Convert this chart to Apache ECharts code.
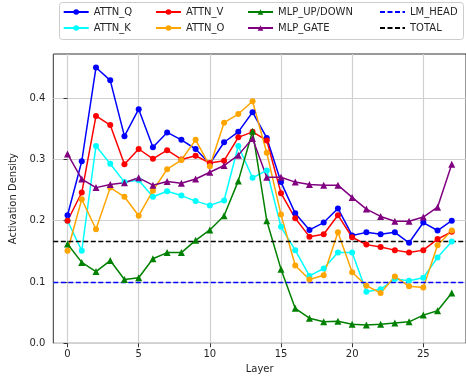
<!DOCTYPE html>
<html>
<head>
<meta charset="utf-8">
<script src="https://cdn.jsdelivr.net/npm/echarts@6/dist/echarts.min.js"></script>
<style>html,body{margin:0;padding:0;background:#fff;}#c{width:466px;height:380px;}</style>
</head>
<body>
<div id="c"></div>
<script>
const layers = [0,1,2,3,4,5,6,7,8,9,10,11,12,13,14,15,16,17,18,19,20,21,22,23,24,25,26,27];
const attnQ = [0.209,0.297,0.450,0.429,0.338,0.382,0.320,0.344,0.332,0.317,0.293,0.328,0.345,0.377,0.335,0.263,0.212,0.185,0.197,0.220,0.176,0.181,0.178,0.181,0.164,0.197,0.184,0.200];
const attnK = [0.200,0.151,0.322,0.293,0.263,0.266,0.239,0.248,0.241,0.232,0.225,0.233,0.322,0.270,0.282,0.190,0.152,0.110,0.122,0.148,0.148,0.084,0.088,0.105,0.102,0.107,0.140,0.166];
const attnV = [0.200,0.246,0.371,0.356,0.292,0.317,0.301,0.315,0.300,0.306,0.294,0.298,0.336,0.345,0.331,0.245,0.204,0.174,0.178,0.209,0.173,0.161,0.157,0.152,0.148,0.152,0.170,0.182];
const attnO = [0.151,0.235,0.186,0.254,0.239,0.208,0.249,0.284,0.299,0.332,0.289,0.360,0.374,0.395,0.311,0.210,0.127,0.104,0.111,0.181,0.116,0.094,0.082,0.109,0.093,0.091,0.160,0.184];
const mlpUpDown = [0.162,0.132,0.117,0.135,0.104,0.107,0.138,0.148,0.148,0.168,0.185,0.208,0.265,0.346,0.200,0.121,0.057,0.041,0.035,0.036,0.031,0.030,0.031,0.033,0.035,0.046,0.053,0.082];
const mlpGate = [0.309,0.268,0.254,0.259,0.262,0.270,0.258,0.264,0.261,0.268,0.279,0.290,0.307,0.334,0.271,0.271,0.263,0.259,0.258,0.258,0.238,0.219,0.207,0.199,0.199,0.206,0.222,0.292];
const lmHead = 0.099;
const total = 0.166;
const xTicks = [0,5,10,15,20,25];
const yTicks = [0,0.1,0.2,0.3,0.4];
const xRange = [-1, 28];

const FONT = 'DejaVu Sans';
const TXT = '#262626';

function pts(vals){ return layers.map((l,i)=>[l, vals[i]]); }
function hline(v){ return [[xRange[0], v],[xRange[1], v]]; }

function lineSeries(name, vals, color, symbol){
  return {
    name, type:'line', data: pts(vals),
    symbol, symbolSize: symbol==='triangle'?7:6, showSymbol:true,
    lineStyle:{color, width:1.5},
    itemStyle:{color},
    emphasis:{disabled:true},
    clip:true
  };
}
function dashSeries(name, v, color){
  return {
    name, type:'line', data: hline(v), symbol:'none',
    lineStyle:{color, width:1.5, type:[5,2.5]},
    itemStyle:{color},
    emphasis:{disabled:true}
  };
}

const legendCommon = {
  orient:'vertical', itemWidth:25, itemHeight:7, itemGap:6, selectedMode:false,
  textStyle:{fontFamily:FONT, fontSize:10, color:TXT, lineHeight:10},
  padding:0
};
const noSym = {opacity:0};

const chart = echarts.init(document.getElementById('c'), null, {renderer:'canvas'});
chart.setOption({
  animation:false,
  backgroundColor:'#fff',
  textStyle:{fontFamily:FONT},
  grid:{left:53.3, top:54, width:417.6, height:289.3, show:true, borderColor:'#333', borderWidth:1, containLabel:false},
  graphic:[{type:'rect', left:59, top:2, shape:{width:404, height:37, r:3}, style:{fill:'rgba(255,255,255,0.8)', stroke:'#cccccc', lineWidth:1}, z:0}],
  legend:[
    Object.assign({left:62.7, top:7, data:['ATTN_Q','ATTN_K']}, legendCommon),
    Object.assign({left:155, top:7, data:['ATTN_V','ATTN_O']}, legendCommon),
    Object.assign({left:247, top:7, data:['MLP_UP/DOWN','MLP_GATE']}, legendCommon),
    Object.assign({left:379, top:7, data:[{name:'LM_HEAD', itemStyle:noSym},{name:'TOTAL', itemStyle:noSym}]}, legendCommon)
  ],
  xAxis:{
    type:'value', min:xRange[0], max:xRange[1],
    name:'Layer', nameLocation:'middle', nameGap:21,
    nameTextStyle:{fontFamily:FONT, fontSize:10, color:TXT},
    axisLine:{show:false},
    axisTick:{show:true, length:4, lineStyle:{color:'#333'}, customValues:xTicks},
    axisLabel:{fontFamily:FONT, fontSize:10, color:TXT, margin:6, customValues:xTicks},
    splitLine:{show:true, lineStyle:{color:'#d0d0d0', width:1.2}}
  },
  yAxis:{
    type:'value', min:0, max:0.472,
    name:'Activation Density', nameLocation:'middle', nameGap:28, nameRotate:90,
    nameTextStyle:{fontFamily:FONT, fontSize:10, color:TXT},
    axisLine:{show:false},
    axisTick:{show:true, length:4, lineStyle:{color:'#333'}, customValues:yTicks},
    axisLabel:{fontFamily:FONT, fontSize:10, color:TXT, margin:8, customValues:yTicks, formatter:(v)=>Number(v).toFixed(1)},
    splitLine:{show:true, lineStyle:{color:'#d0d0d0', width:1.2}}
  },
  series:[
    lineSeries('ATTN_Q', attnQ, '#0000ff', 'circle'),
    lineSeries('ATTN_K', attnK, '#00ffff', 'circle'),
    lineSeries('ATTN_V', attnV, '#ff0000', 'circle'),
    lineSeries('ATTN_O', attnO, '#ffa500', 'circle'),
    lineSeries('MLP_UP/DOWN', mlpUpDown, '#008000', 'triangle'),
    lineSeries('MLP_GATE', mlpGate, '#800080', 'triangle'),
    dashSeries('LM_HEAD', lmHead, '#0000ff'),
    dashSeries('TOTAL', total, '#000000')
  ]
});
</script>
</body>
</html>
